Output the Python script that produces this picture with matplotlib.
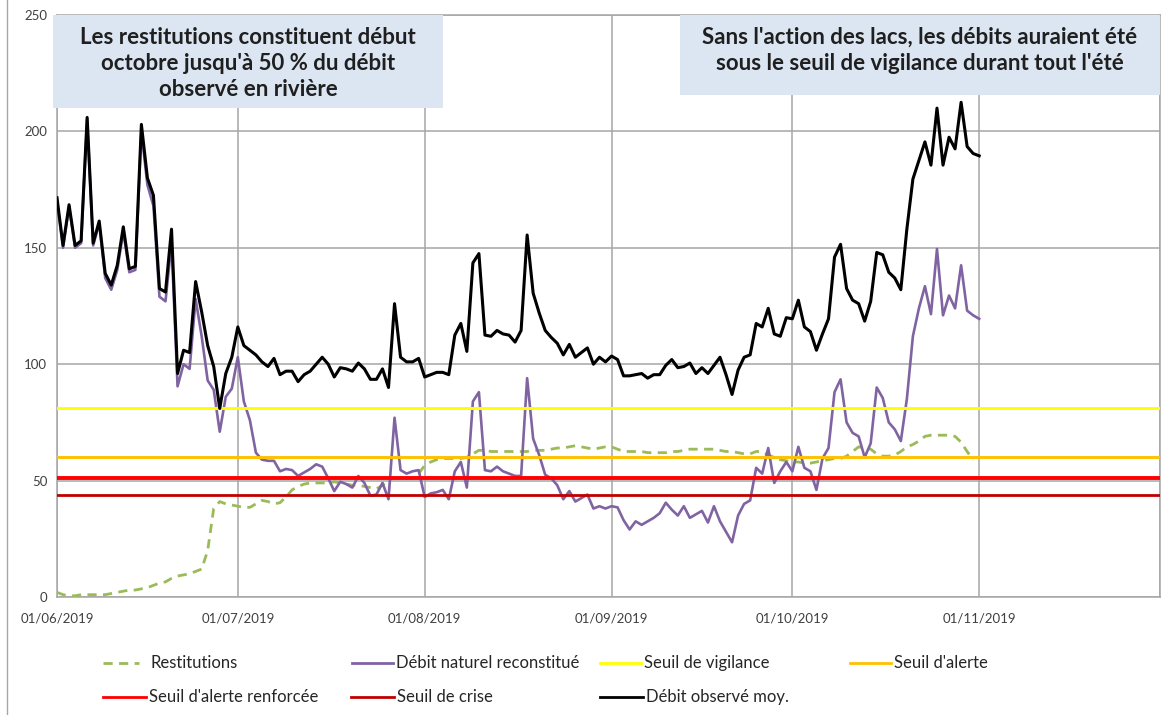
import matplotlib
matplotlib.use("Agg")
import matplotlib.pyplot as plt
import matplotlib.dates as mdates
from matplotlib.patches import Rectangle
from matplotlib.lines import Line2D
import pandas as pd

plt.rcParams['font.family'] = ['Lato', 'DejaVu Sans']

# daily values 01/06/2019 -> 01/11/2019 (m3/s)
debit_observe = (
    # juin
    [171.5, 151, 168.5, 151, 153, 206, 152, 161.5, 139, 134, 142.5, 159, 141, 142, 203,
     180, 172.5, 132.5, 131, 158, 96, 106, 105, 135.5, 122.5, 108, 99, 81, 96, 103]
    # juillet
    + [116, 108, 106, 104, 101, 99, 102.5, 95.5, 97, 97, 92.5, 95.5, 97, 100, 103, 100,
       94.5, 98.5, 98, 97, 100.5, 98, 93.5, 93.5, 98, 90, 126, 103, 101, 101, 102.5]
    # aout
    + [94.5, 95.5, 96.5, 96.5, 95.5, 112.5, 117.5, 105.5, 143.5, 147.5, 112.5, 112, 114.5,
       113, 112.5, 109.5, 114.5, 155.5, 130.5, 122, 114.5, 111.5, 109, 104, 108.5, 103,
       105, 107, 100, 103, 101]
    # septembre
    + [103.5, 102, 95, 95, 95.5, 96, 94, 95.5, 95.5, 99.5, 102, 98.5, 99, 100.5, 96, 98.5,
       96, 99.5, 103, 95.5, 87, 97.5, 103, 104, 117.5, 116, 124, 113, 112, 120]
    # octobre
    + [119.5, 127.5, 116, 114, 106, 113, 119.5, 146, 151.5, 132.5, 127.5, 126, 118.5, 127,
       148, 147, 139.5, 137, 132, 158, 179.5, 187.5, 195.5, 185.5, 210, 185.5, 197.5,
       192.5, 212.5, 193.5, 190.5]
    # novembre
    + [189.5]
)

debit_naturel = (
    [170, 150, 167.5, 150, 152, 205, 151, 160.5, 137, 132, 140.5, 157, 139.5, 140.5, 200,
     177, 168, 129, 127, 152, 90.5, 100, 98, 128, 112, 93, 89, 71, 86, 89.5]
    + [103, 84, 76, 62, 59, 58.5, 58.5, 54, 55, 54.5, 52, 53.5, 55, 57, 56, 51, 45.5, 49.5,
       48.5, 47, 52, 49, 43.5, 44, 49, 42, 77, 54.5, 53, 54, 54.5]
    + [43, 44.5, 45, 46, 42, 54, 58, 47, 84, 88, 54.5, 54, 56, 54, 53, 52, 52, 94, 68, 61,
       52.5, 51, 48, 42, 45.5, 41, 42.5, 44, 38, 39, 38]
    + [39, 38.5, 33, 29, 32.5, 31, 32.5, 34, 36, 40.5, 37.5, 35, 39, 34, 35.5, 37, 32, 39,
       32.5, 28, 23.5, 35, 40, 41.5, 55.5, 53, 64, 49, 54, 58]
    + [54, 64.5, 55.5, 54, 46, 59.5, 64, 88, 93.5, 75, 70.5, 69, 60, 66, 90, 85.5, 75, 72,
       67, 85, 112, 124, 133.5, 121.5, 149.5, 121, 129.5, 124, 142.5, 123, 121]
    + [119.5]
)

restitutions = (
    [2, 1, 0.5, 0.5, 1, 1, 1, 1, 1, 1.5, 2, 2.5, 3, 3, 3.5, 4, 5, 6, 6.5, 8, 9, 9.5, 10,
     11, 12, 20, 38, 41, 40, 39.5]
    + [39, 38.5, 38.5, 40, 41.5, 41, 40, 40.5, 43, 46, 47.5, 48.5, 49, 49, 49, 49, 49.5,
       49, 48.5, 48, 48, 47.5, 47, 46.5, 48, 50.5, 51, 51, 51, 51, 53]
    + [56.5, 58, 59, 59.5, 59.5, 59.5, 59.5, 60, 61.5, 63, 63, 62.5, 62.5, 62.5, 62.5,
       62.5, 62.5, 62.5, 63, 63, 63, 63.5, 64, 64, 64.5, 65, 64.5, 64, 63.5, 64, 64.5]
    + [64.5, 63.5, 62.5, 62.5, 62.5, 62.5, 62, 62, 62, 62, 62.5, 62.5, 63, 63.5, 63.5,
       63.5, 63.5, 63.5, 63, 62.5, 62.5, 62, 61.5, 61.5, 62.5, 62.5, 61, 60, 59, 58.5]
    + [58, 58, 57.5, 57.5, 58, 58.5, 59, 59.5, 59.5, 60.5, 62.5, 64.5, 64, 63.5, 61.5,
       60.5, 60.5, 61, 62.5, 64.5, 65.5, 67, 69, 69.5, 69.5, 69.5, 69.5, 69, 66.5, 62.5, 59]
)

seuil_vigilance = 81
seuil_alerte = 60
seuil_alerte_renforcee = 51
seuil_crise = 44

dates = pd.date_range('2019-06-01', periods=len(debit_observe), freq='D')

fig = plt.figure(figsize=(11.72, 7.15), dpi=100)
ax = fig.add_axes([57 / 1172, 1 - 597 / 715, (1160 - 57) / 1172, (597 - 15) / 715])

grid_col = '#a6a6a6'
ax.plot(dates[:len(restitutions)], restitutions, color='#9bbb59', lw=2,
        linestyle=(0, (3.3, 2.3)), zorder=3)
ax.plot(dates, debit_naturel, color='#8064a2', lw=1.9, zorder=3)
ax.axhline(seuil_vigilance, color='#ffff00', lw=2.1, zorder=4)
ax.axhline(seuil_alerte, color='#ffc000', lw=2.1, zorder=4)
ax.axhline(seuil_alerte_renforcee, color='#ff0000', lw=2.8, zorder=4)
ax.axhline(seuil_crise, color='#c00000', lw=2, zorder=4)
ax.plot(dates, debit_observe, color='black', lw=2.2, zorder=5)

ax.set_xlim(pd.Timestamp('2019-06-01'), pd.Timestamp('2019-12-01'))
ax.set_ylim(0, 250)
ax.set_yticks(range(0, 251, 50))
ax.xaxis.set_major_locator(mdates.MonthLocator())
ax.xaxis.set_major_formatter(mdates.DateFormatter('%d/%m/%Y'))
ax.tick_params(axis='both', length=0, labelsize=9.5, labelcolor='#404040')
ax.tick_params(axis='x', pad=11)
ax.tick_params(axis='y', pad=7)
ax.grid(True, color=grid_col, lw=1.1)
for s in ax.spines.values():
    s.set_color(grid_col)
    s.set_linewidth(1.1)
# no label for 01/12 (right edge)
fig.canvas.draw()
for lbl in ax.get_xticklabels():
    if lbl.get_text() == '01/12/2019':
        lbl.set_visible(False)

# outer frame line
fig.add_artist(Line2D([7 / 1172, 7 / 1172], [0, 1], color='#a6a6a6', lw=1,
                      transform=fig.transFigure))

# annotation boxes
def box(x0, y0, x1, y1, lines, cx, ys):
    fig.add_artist(Rectangle((x0 / 1172, 1 - y1 / 715), (x1 - x0) / 1172, (y1 - y0) / 715,
                             transform=fig.transFigure, facecolor='#dce6f2',
                             edgecolor='none', zorder=6))
    for t, y in zip(lines, ys):
        fig.text(cx / 1172, 1 - y / 715, t, ha='center', va='center', fontsize=16,
                 fontweight='bold', color='#1f1f1f', zorder=7)

box(53, 15, 443, 108,
    ["Les restitutions constituent début", "octobre jusqu'à 50 % du débit",
     "observé en rivière"], 248, [37, 63, 89])
box(680, 15, 1160, 95,
    ["Sans l'action des lacs, les débits auraient été",
     "sous le seuil de vigilance durant tout l'été"], 920, [37, 64])

# legend
legend_items = [
    ("Restitutions", '#9bbb59', (0, (3.3, 2.3)), 103, 139, 150, 663),
    ("Débit naturel reconstitué", '#8064a2', '-', 352, 393, 396, 663),
    ("Seuil de vigilance", '#ffff00', '-', 600, 641, 644, 663),
    ("Seuil d'alerte", '#ffc000', '-', 850, 891, 894, 663),
    ("Seuil d'alerte renforcée", '#ff0000', '-', 103, 146, 149, 697),
    ("Seuil de crise", '#c00000', '-', 351, 394, 397, 697),
    ("Débit observé moy.", 'black', '-', 600, 643, 646, 697),
]
for label, col, ls, hx0, hx1, tx, y in legend_items:
    fig.add_artist(Line2D([hx0 / 1172, hx1 / 1172], [1 - y / 715, 1 - y / 715],
                          color=col, lw=2, linestyle=ls, transform=fig.transFigure))
    fig.text(tx / 1172, 1 - y / 715, label, ha='left', va='center', fontsize=12,
             color='#262626')

fig.savefig('out.png', dpi=100)
